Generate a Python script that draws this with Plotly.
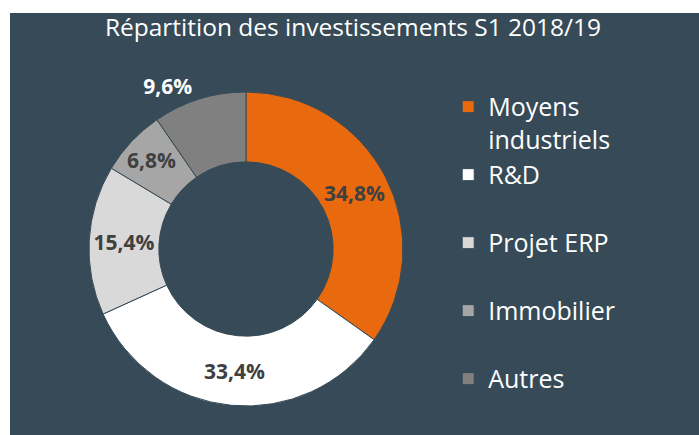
import plotly.graph_objects as go

# Données (répartition des investissements S1 2018/19)
categories = ["Moyens<br>industriels", "R&D<br> ", "Projet ERP<br> ", "Immobilier<br> ", "Autres"]
valeurs = [34.8, 33.4, 15.4, 6.8, 9.6]
etiquettes = ["34,8%", "33,4%", "15,4%", "6,8%", "9,6%"]
positions_texte = ["inside", "inside", "inside", "inside", "outside"]

couleurs = ["#E8690E", "#FFFFFF", "#D9D9D9", "#A6A6A6", "#808080"]
FOND = "#364A57"

fig = go.Figure()

fig.add_trace(
    go.Pie(
        labels=categories,
        values=valeurs,
        text=etiquettes,
        textinfo="text",
        textposition=positions_texte,
        insidetextorientation="horizontal",
        hole=0.555,
        sort=False,
        direction="clockwise",
        marker={"colors": couleurs, "line": {"color": FOND, "width": 1}},
        insidetextfont={"family": "Open Sans", "size": 21, "color": "#404040", "weight": "bold"},
        outsidetextfont={"family": "Open Sans", "size": 21, "color": "#FFFFFF", "weight": "bold"},
        domain={"x": [0.1146, 0.5704], "y": [0.0687, 0.8128]},
        hoverinfo="label+percent",
    )
)

# fond sombre du cadre
fig.add_shape(
    type="rect",
    xref="paper",
    yref="paper",
    x0=0,
    x1=1,
    y0=0,
    y1=1,
    fillcolor=FOND,
    line={"width": 0},
    layer="below",
)

fig.update_layout(
    width=699,
    height=435,
    paper_bgcolor="#FFFFFF",
    plot_bgcolor=FOND,
    margin={"l": 10, "r": 0, "t": 13, "b": 0},
    uniformtext={"mode": "show", "minsize": 21},
    title={
        "text": "Répartition des investissements S1 2018/19",
        "x": 0.505,
        "xanchor": "center",
        "y": 0.938,
        "yanchor": "middle",
        "font": {"family": "Open Sans", "size": 24.5, "color": "#FFFFFF"},
    },
    legend={
        "x": 0.636,
        "xanchor": "left",
        "y": 0.832,
        "yanchor": "top",
        "valign": "top",
        "font": {"family": "Open Sans", "size": 25, "color": "#FFFFFF"},
        "bgcolor": "rgba(0,0,0,0)",
    },
    showlegend=True,
)

fig.write_html(
    "out.html",
    config={"displayModeBar": False},
    post_script="document.body.style.margin='0';",
)
